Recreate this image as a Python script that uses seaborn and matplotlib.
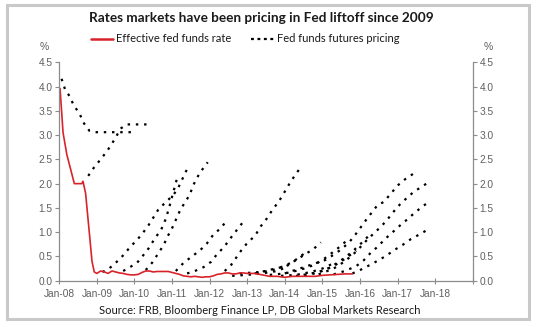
import matplotlib
matplotlib.use("Agg")
import matplotlib.pyplot as plt
import seaborn as sns
import pandas as pd
from matplotlib.patches import Rectangle
from matplotlib.lines import Line2D

# ---------------- data ----------------
title = "Rates markets have been pricing in Fed liftoff since 2009"
source = "Source: FRB, Bloomberg Finance LP, DB Global Markets Research"
x_tick_years = [2008, 2009, 2010, 2011, 2012, 2013, 2014, 2015, 2016, 2017, 2018]
x_tick_labels = ["Jan-08", "Jan-09", "Jan-10", "Jan-11", "Jan-12", "Jan-13",
                 "Jan-14", "Jan-15", "Jan-16", "Jan-17", "Jan-18"]
y_ticks = [0.0, 0.5, 1.0, 1.5, 2.0, 2.5, 3.0, 3.5, 4.0, 4.5]

# Effective fed funds rate (decimal years, %)
effr_x = [2008.02, 2008.1, 2008.2, 2008.3, 2008.4, 2008.5, 2008.6, 2008.63, 2008.7,
          2008.8, 2008.87, 2008.93, 2009.0, 2009.1, 2009.2, 2009.3, 2009.4, 2009.5,
          2009.6, 2009.7, 2009.8, 2009.9, 2010.0, 2010.1, 2010.2, 2010.3, 2010.4,
          2010.5, 2010.6, 2010.7, 2010.8, 2010.9, 2011.0, 2011.1, 2011.2, 2011.3,
          2011.4, 2011.5, 2011.6, 2011.7, 2011.8, 2011.9, 2012.0, 2012.1, 2012.2,
          2012.3, 2012.4, 2012.5, 2012.6, 2012.7, 2012.8, 2012.9, 2013.0, 2013.2,
          2013.4, 2013.6, 2013.8, 2014.0, 2014.2, 2014.4, 2014.6, 2014.8, 2015.0,
          2015.2, 2015.4, 2015.6, 2015.8]
effr_y = [3.96, 3.05, 2.6, 2.3, 2.0, 2.0, 2.0, 2.05, 1.8,
          0.98, 0.4, 0.18, 0.15, 0.2, 0.18, 0.15, 0.2, 0.18,
          0.16, 0.15, 0.13, 0.12, 0.12, 0.13, 0.17, 0.2, 0.2,
          0.18, 0.19, 0.19, 0.19, 0.19, 0.17, 0.15, 0.13, 0.1,
          0.09, 0.08, 0.09, 0.08, 0.07, 0.08, 0.08, 0.1, 0.13,
          0.14, 0.16, 0.16, 0.14, 0.14, 0.16, 0.16, 0.15, 0.15,
          0.12, 0.09, 0.09, 0.07, 0.09, 0.09, 0.09, 0.09, 0.11,
          0.12, 0.13, 0.14, 0.14]

# Fed funds futures pricing curves (decimal years, %)
fut_a_x = [2008.06, 2008.15, 2008.29, 2008.39, 2008.53, 2008.64, 2008.8, 2008.95, 2009.94]
fut_a_y = [4.16, 3.95, 3.78, 3.6, 3.46, 3.26, 3.09, 3.06, 3.06]
fut_b_x = [2008.77, 2008.93, 2009.09, 2009.27, 2009.38, 2009.51, 2009.62, 2009.8, 2010.42]
fut_b_y = [2.16, 2.34, 2.49, 2.67, 2.8, 2.96, 3.13, 3.22, 3.22]
fut_c_x = [2009.15, 2009.31, 2009.53, 2009.71, 2009.89, 2010.07, 2010.22, 2010.38, 2010.51,
           2010.63, 2010.82, 2011.04, 2011.18, 2011.4]
fut_c_y = [0.18, 0.24, 0.39, 0.53, 0.7, 0.84, 0.98, 1.15, 1.31, 1.46, 1.61, 1.77, 1.94, 2.3]
fut_d_x = [2009.7, 2009.84, 2010.07, 2010.24, 2010.38, 2010.55, 2010.71, 2010.82, 2010.91, 2011.13]
fut_d_y = [0.2, 0.26, 0.37, 0.53, 0.67, 0.88, 1.05, 1.25, 1.47, 2.1]
fut_e_x = [2010.3, 2010.47, 2010.64, 2010.78, 2010.88, 2011.0, 2011.22, 2011.47, 2011.56,
           2011.67, 2011.83, 2011.95]
fut_e_y = [0.22, 0.37, 0.57, 0.74, 0.91, 1.08, 1.46, 1.77, 1.96, 2.13, 2.32, 2.44]
fut_f_x = [2011.1, 2011.31, 2011.53, 2011.75, 2011.92, 2012.09, 2012.29, 2012.45]
fut_f_y = [0.2, 0.37, 0.5, 0.63, 0.76, 0.94, 1.08, 1.23]
fut_g_x = [2011.4, 2011.58, 2011.84, 2012.04, 2012.2, 2012.38, 2012.54, 2012.69, 2012.87]
fut_g_y = [0.15, 0.19, 0.28, 0.39, 0.55, 0.69, 0.86, 1.01, 1.19]
fut_h_x = [2012.4, 2012.55, 2012.73, 2012.91, 2013.22, 2013.36, 2013.53, 2013.67, 2013.84,
           2013.98, 2014.11, 2014.26, 2014.38]
fut_h_y = [0.2, 0.3, 0.5, 0.7, 0.94, 1.12, 1.29, 1.46, 1.63, 1.81, 1.98, 2.16, 2.29]
fut_i_x = [2012.8, 2013.2, 2013.6, 2013.9, 2014.2, 2014.5]
fut_i_y = [0.15, 0.17, 0.2, 0.28, 0.38, 0.55]
fut_j_x = [2013.2, 2013.8, 2014.02, 2014.33, 2014.55, 2014.76, 2014.96]
fut_j_y = [0.15, 0.26, 0.29, 0.44, 0.55, 0.65, 0.79]
fut_k_x = [2013.6, 2014.0, 2014.4, 2014.8, 2015.1, 2015.4, 2015.7]
fut_k_y = [0.12, 0.15, 0.22, 0.33, 0.48, 0.66, 0.86]
fut_l_x = [2014.0, 2014.55, 2014.82, 2015.09, 2015.31, 2015.51, 2015.71, 2015.86, 2016.02,
           2016.18, 2016.34, 2016.47, 2016.63, 2016.85, 2017.0, 2017.2, 2017.47]
fut_l_y = [0.15, 0.29, 0.36, 0.43, 0.54, 0.65, 0.79, 0.93, 1.1,
           1.27, 1.43, 1.56, 1.62, 1.82, 1.96, 2.09, 2.23]
fut_m_x = [2014.5, 2014.9, 2015.2, 2015.5, 2015.8, 2016.1, 2016.3]
fut_m_y = [0.12, 0.18, 0.27, 0.42, 0.6, 0.82, 0.98]
fut_n_x = [2014.9, 2015.3, 2015.6, 2015.9, 2016.2, 2016.54, 2016.71, 2016.87, 2017.05,
           2017.24, 2017.43, 2017.65, 2017.87]
fut_n_y = [0.13, 0.25, 0.4, 0.6, 0.85, 1.1, 1.24, 1.4, 1.56, 1.7, 1.83, 1.94, 2.05]
fut_o_x = [2015.3, 2015.6, 2015.9, 2016.1, 2016.28, 2016.47, 2016.67, 2016.87, 2017.07,
           2017.27, 2017.47, 2017.67, 2017.87]
fut_o_y = [0.13, 0.2, 0.3, 0.42, 0.57, 0.7, 0.86, 1.0, 1.14, 1.27, 1.41, 1.53, 1.65]
fut_p_x = [2015.8, 2015.98, 2016.23, 2016.47, 2016.69, 2016.91, 2017.14, 2017.36, 2017.6, 2017.82]
fut_p_y = [0.15, 0.21, 0.31, 0.41, 0.51, 0.63, 0.74, 0.86, 0.96, 1.06]
fut_q_x = [2012.6, 2013.0, 2013.4, 2013.8, 2014.1]
fut_q_y = [0.1, 0.12, 0.15, 0.2, 0.3]
fut_r_x = [2013.9, 2014.3, 2014.7, 2015.0, 2015.3]
fut_r_y = [0.1, 0.12, 0.18, 0.25, 0.36]
fut_s_x = [2014.3, 2014.7, 2015.0, 2015.3, 2015.6, 2015.9]
fut_s_y = [0.1, 0.13, 0.2, 0.3, 0.45, 0.62]

futures = {
    "A": (fut_a_x, fut_a_y), "B": (fut_b_x, fut_b_y), "C": (fut_c_x, fut_c_y),
    "D": (fut_d_x, fut_d_y), "E": (fut_e_x, fut_e_y), "F": (fut_f_x, fut_f_y),
    "G": (fut_g_x, fut_g_y), "H": (fut_h_x, fut_h_y), "I": (fut_i_x, fut_i_y),
    "J": (fut_j_x, fut_j_y), "K": (fut_k_x, fut_k_y), "L": (fut_l_x, fut_l_y),
    "M": (fut_m_x, fut_m_y), "N": (fut_n_x, fut_n_y), "O": (fut_o_x, fut_o_y),
    "P": (fut_p_x, fut_p_y), "Q": (fut_q_x, fut_q_y), "R": (fut_r_x, fut_r_y),
    "S": (fut_s_x, fut_s_y),
}

# ---------------- plot ----------------
sns.set_theme(style="white")
plt.rcParams["font.family"] = ["Lato", "DejaVu Sans"]

W, H = 538, 327
fig = plt.figure(figsize=(W / 100, H / 100), dpi=100)
fig.patch.set_facecolor("white")
ax = fig.add_axes([59.3 / W, 1 - 280.7 / H, (472.7 - 59.3) / W, (280.7 - 62.3) / H])
ax.set_facecolor("white")

red = "#d9232b"
dash = (0, (1.1, 2.6))
fut_df = pd.concat(
    [pd.DataFrame({"year": xs, "rate": ys, "curve": k}) for k, (xs, ys) in futures.items()],
    ignore_index=True)
for k, sub in fut_df.groupby("curve"):
    sns.lineplot(data=sub, x="year", y="rate", ax=ax, color="black", lw=1.6,
                 linestyle=dash, sort=False, estimator=None, legend=False)

effr_df = pd.DataFrame({"year": effr_x, "rate": effr_y})
sns.lineplot(data=effr_df, x="year", y="rate", ax=ax, color=red, lw=1.2,
             sort=False, estimator=None, legend=False)

ax.set_xlim(2008, 2019)
ax.set_ylim(0, 4.5)
ax.set_xlabel("")
ax.set_ylabel("")
ax.set_xticks(x_tick_years + [2019])
ax.set_xticklabels(x_tick_labels + [""])
ax.set_yticks(y_ticks)
ax.set_yticklabels([f"{v:.1f}" for v in y_ticks])

axis_col = "#8c8c8c"
label_col = "#5f5f5f"
for s in ["left", "bottom", "right"]:
    ax.spines[s].set_visible(True)
    ax.spines[s].set_color(axis_col)
    ax.spines[s].set_linewidth(0.9)
ax.spines["top"].set_visible(False)
ax.tick_params(axis="both", which="both", length=3, width=0.8, color=axis_col,
               labelcolor=label_col, labelsize=7.3, pad=2)
ax.tick_params(axis="y", left=True, right=True, labelleft=True, labelright=True,
               direction="out")
ax.tick_params(axis="x", bottom=True, direction="inout", length=4, pad=4)
for lab in ax.get_xticklabels() + ax.get_yticklabels():
    lab.set_fontfamily(["Liberation Sans", "DejaVu Sans"])

fig.text(44 / W, 1 - 47 / H, "%", ha="center", va="center", fontsize=7.5,
         color=label_col, family=["Liberation Sans", "DejaVu Sans"])
fig.text(488 / W, 1 - 47 / H, "%", ha="center", va="center", fontsize=7.5,
         color=label_col, family=["Liberation Sans", "DejaVu Sans"])

fig.text(261 / W, 1 - 18 / H, title, ha="center", va="center", fontsize=9.8,
         fontweight="bold", color="#1a1a1a")

handles = [Line2D([0], [0], color=red, lw=1.8),
           Line2D([0], [0], color="black", lw=1.6, linestyle=(0, (1.3, 1.6)))]
fig.legend(handles, ["Effective fed funds rate", "Fed funds futures pricing"],
           loc="center", bbox_to_anchor=(245 / W, 1 - 39 / H), ncol=2, frameon=False,
           fontsize=8, handlelength=2.0, handletextpad=0.3, columnspacing=1.8,
           labelcolor="#1a1a1a")

fig.text(260 / W, 1 - 310 / H, source, ha="center", va="center", fontsize=8,
         color="#1a1a1a")

fig.patches.append(Rectangle((7 / W, 1 - 319 / H), 522 / W, 314 / H,
                             transform=fig.transFigure, fill=False,
                             edgecolor="#c9c9c9", lw=2.2))

fig.savefig("out.png", dpi=100, facecolor="white")
